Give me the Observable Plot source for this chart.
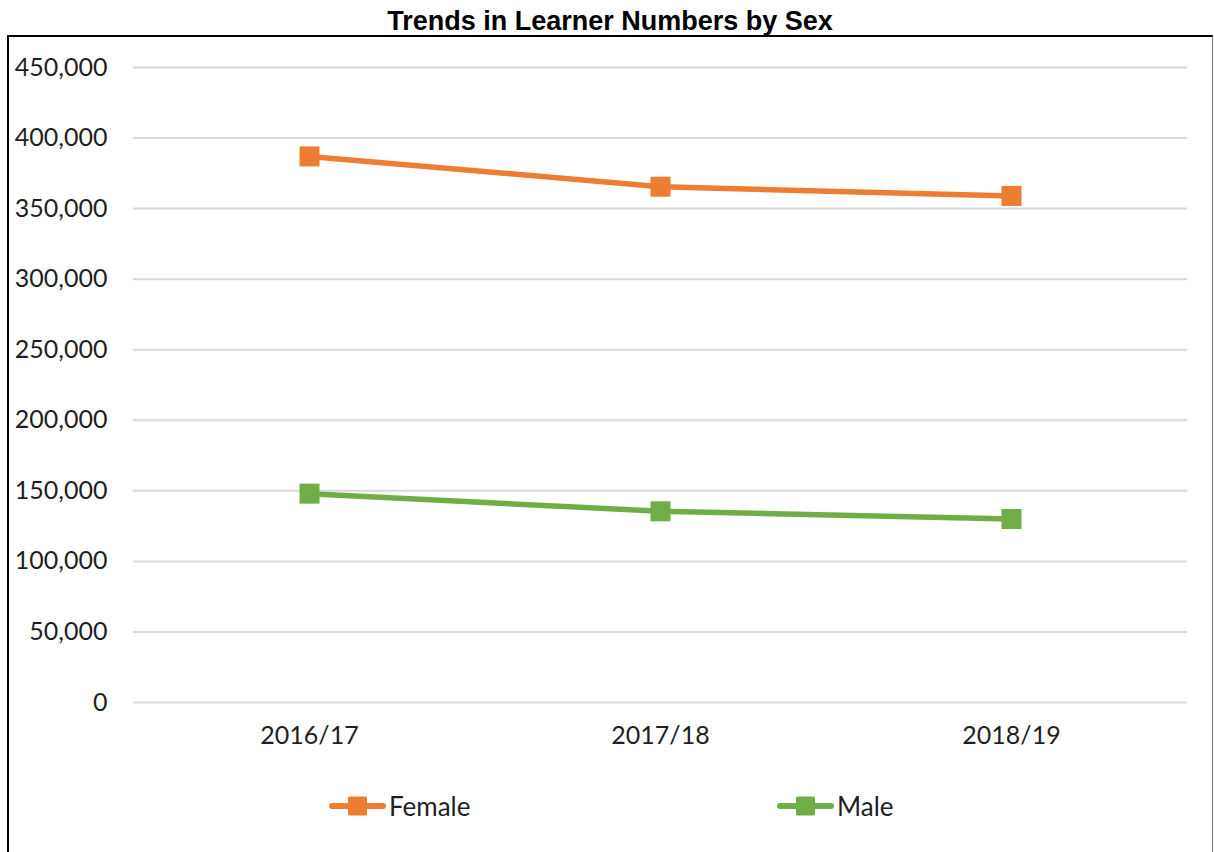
<!DOCTYPE html>
<html>
<head>
<meta charset="utf-8">
<script src="https://cdn.jsdelivr.net/npm/d3@7"></script>
<script src="https://cdn.jsdelivr.net/npm/@observablehq/plot@0.6"></script>
<style>
  body { margin:0; background:#fff; width:1214px; height:852px; overflow:hidden; position:relative; }
  #title { position:absolute; left:0; top:6px; width:1220px; text-align:center; font:bold 27px "Liberation Sans", Arial, sans-serif; color:#000; line-height:30px; }
  #frame { position:absolute; left:7px; top:35px; width:1203px; height:840px; border-left:2px solid #000; border-top:2px solid #000; border-right:1px solid #7f7f7f; }
  #chart { position:absolute; left:9px; top:37px; }
  .leg { position:absolute; top:792px; display:flex; align-items:center; font:26px Lato, "Open Sans", sans-serif; color:#1f1f1f; height:28px; }
  .leg svg { display:block; margin-right:3px; }
</style>
</head>
<body>
<div id="title">Trends in Learner Numbers by Sex</div>
<div id="frame"></div>
<div id="chart"></div>
<div id="legend"></div>
<script>
const years = ["2016/17", "2017/18", "2018/19"];
const series = ["Female", "Male"];
const female = [387000, 365500, 359000];
const male = [148000, 135500, 130000];
const colors = ["#ED7D31", "#70AD47"];
const yTicks = [0, 50000, 100000, 150000, 200000, 250000, 300000, 350000, 400000, 450000];

const values = {Female: female, Male: male};
const data = series.flatMap(s => years.map((y, i) => ({year: y, sex: s, value: values[s][i]})));

const chart = Plot.plot({
  width: 1202,
  height: 740,
  marginLeft: 124,
  marginRight: 24,
  marginTop: 30,
  marginBottom: 75,
  style: {fontFamily: "Lato, 'Open Sans', sans-serif", fontSize: "25px", color: "#1f1f1f", background: "transparent"},
  x: {type: "point", domain: years, padding: 0.5, label: null},
  y: {domain: [0, 450000], label: null},
  color: {domain: series, range: colors},
  marks: [
    Plot.gridY(yTicks, {stroke: "#d9d9d9", strokeOpacity: 1, strokeWidth: 2}),
    Plot.axisY(yTicks, {tickSize: 0, tickPadding: 26, tickFormat: d3.format(","), label: null}),
    Plot.axisX({tickSize: 0, tickPadding: 24, label: null}),
    Plot.line(data, {x: "year", y: "value", stroke: "sex", z: "sex", strokeWidth: 5.5}),
    Plot.dot(data, {x: "year", y: "value", fill: "sex", symbol: "square", r: 11.3})
  ]
});
document.getElementById("chart").appendChild(chart);

const legendLefts = {Female: 329, Male: 777};
const legend = document.getElementById("legend");
series.forEach((s, i) => {
  const div = document.createElement("div");
  div.className = "leg";
  div.style.left = legendLefts[s] + "px";
  div.innerHTML = `<svg width="57" height="22"><line x1="3" y1="11" x2="54" y2="11" stroke="${colors[i]}" stroke-width="6" stroke-linecap="round"/><rect x="19" y="1.5" width="19" height="19" rx="1.5" fill="${colors[i]}"/></svg><span>${s}</span>`;
  legend.appendChild(div);
});
</script>
</body>
</html>
